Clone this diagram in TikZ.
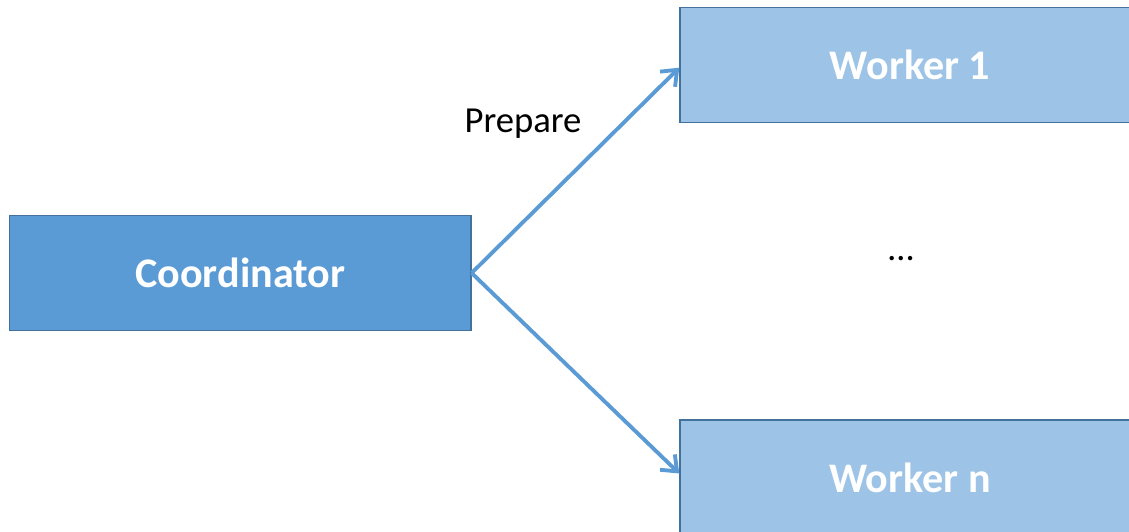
\documentclass[tikz,border=0pt]{standalone}
\usepackage{fontspec}
\setmainfont{Carlito}
\usetikzlibrary{arrows.meta}
\definecolor{coordfill}{HTML}{5B9BD5}
\definecolor{workfill}{HTML}{9DC3E6}
\definecolor{boxborder}{HTML}{41719C}
\definecolor{arrowcol}{HTML}{5B9BD5}
\begin{document}
\begin{tikzpicture}[x=0.75pt,y=-0.75pt,
  box/.style={draw=boxborder, line width=1.1pt, minimum width=345pt, minimum height=86.5pt,
    inner sep=0pt, text=white, font=\fontsize{31.6}{36}\selectfont\bfseries},
  coordbox/.style={box, fill=coordfill},
  workbox/.style={box, fill=workfill},
  link/.style={draw=arrowcol, line width=2.9pt, -{Straight Barb[length=10pt,width=16pt,line width=2.9pt]}},
  lbl/.style={font=\fontsize{27.5}{33}\selectfont, text=black, inner sep=0pt}
]
\useasboundingbox (0,0) rectangle (1129,532);
\clip (0,0) rectangle (1129,532);
\node[coordbox, minimum width=346pt] (coord) at (240.25,273) {Coordinator};
\node[workbox] (w1) at (910,65) {Worker 1};
\node[workbox] (wn) at (910,477.5) {Worker n};
\draw[link] (coord.east) -- ([yshift=-2pt]w1.west);
\draw[link] (coord.east) -- ([yshift=3pt]wn.west);
\node[lbl, anchor=base] (prep) at (523,132) {Prepare};
\node[lbl, anchor=base] (dots) at (901,260) {…};
\end{tikzpicture}
\end{document}
